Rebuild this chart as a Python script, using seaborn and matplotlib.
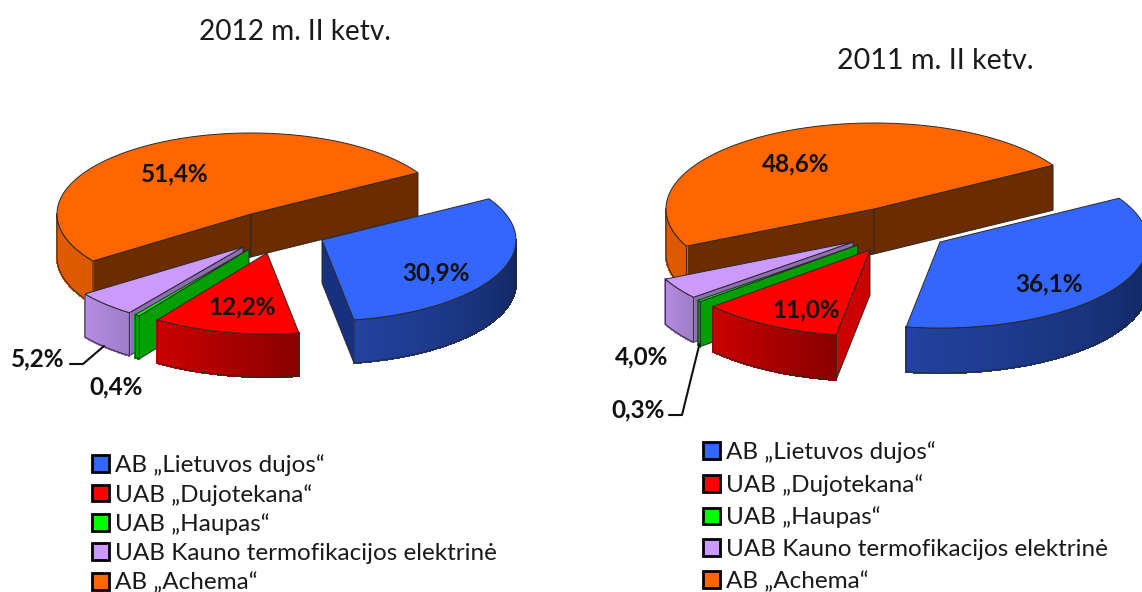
import numpy as np
import matplotlib.pyplot as plt
from matplotlib.patches import Patch
import seaborn as sns

# Duomenys
imones = ["AB „Lietuvos dujos“", "UAB „Dujotekana“", "UAB „Haupas“",
          "UAB Kauno termofikacijos elektrinė", "AB „Achema“"]
dalys_2012 = [30.9, 12.2, 0.4, 5.2, 51.4]
dalys_2011 = [36.1, 11.0, 0.3, 4.0, 48.6]
etiketes_2012 = ["30,9%", "12,2%", "0,4%", "5,2%", "51,4%"]
etiketes_2011 = ["36,1%", "11,0%", "0,3%", "4,0%", "48,6%"]
pavadinimas_2012 = "2012 m. II ketv."
pavadinimas_2011 = "2011 m. II ketv."

# Spalvos: virsus, pjuvis, sono gradientas
virsus = ["#3366FF", "#FF0000", "#00FF00", "#CC99FF", "#FF6600"]
pjuvis = ["#17307F", "#CC0000", "#00A000", "#8E6DB0", "#6B2C00"]
sonas = [("#22429F", "#11265F"), ("#CC0000", "#8C0000"), ("#00A000", "#008000"),
         ("#B78CE3", "#A07EC9"), ("#E05A00", "#DD5900")]
krastas = "#2A2A2A"

sns.set_theme(style="white")
plt.rcParams["font.family"] = ["Lato", "DejaVu Sans"]

fig = plt.figure(figsize=(11.42, 5.92), dpi=100)
ax = fig.add_axes([0, 0, 1, 1])
ax.set_xlim(0, 1142)
ax.set_ylim(592, 0)
ax.axis("off")


def taskai(cx, cy, a, b, t):
    t = np.radians(t)
    return cx + a * np.cos(t), cy - b * np.sin(t)


def pyragas(dalys, cx, cy, a, b, gylis, poslinkiai):
    dalys = np.array(dalys) / np.sum(dalys)
    pradzia = 30.6
    kampai = []
    for d in dalys:
        kampai.append((pradzia, pradzia - d * 360))
        pradzia -= d * 360
    # piesimo tvarka: nuo galo i prieki
    for i in [4, 0, 3, 2, 1]:
        t0, t1 = kampai[i]
        px = cx + poslinkiai[i][0]
        py = cy + poslinkiai[i][1]
        # pjuvio sienos
        for t, zenklas in [(t0, -1), (t1, 1)]:
            if np.cos(np.radians(t)) * zenklas > 0:
                x, y = taskai(px, py, a, b, t)
                ax.fill([px, x, x, px], [py, y, y + gylis, py + gylis],
                        facecolor=pjuvis[i], edgecolor=krastas, lw=0.7)
        # isorine siena: matoma tik priekine dalis
        for poslinkis in [0, -360]:
            nuo = min(t0, 0 + poslinkis)
            iki = max(t1, -180 + poslinkis)
            if nuo <= iki:
                continue
            n = max(int((nuo - iki) / 1.5), 1)
            ribos = np.linspace(iki, nuo, n + 1)
            palete = sns.blend_palette(sonas[i], n)
            for j in range(n):
                tt = np.linspace(ribos[j], ribos[j + 1], 3)
                x, y = taskai(px, py, a, b, tt)
                ax.fill(np.r_[x, x[::-1]], np.r_[y, y[::-1] + gylis],
                        facecolor=palete[j], edgecolor=palete[j], lw=1.0, antialiased=False)
            tt = np.linspace(iki, nuo, n + 1)
            x, y = taskai(px, py, a, b, tt)
            ax.fill(np.r_[x, x[::-1]], np.r_[y, y[::-1] + gylis],
                    facecolor="none", edgecolor=krastas, lw=0.7)
        # virsus
        tt = np.linspace(t0, t1, max(int(abs(t0 - t1)), 2) + 1)
        x, y = taskai(px, py, a, b, tt)
        ax.fill(np.r_[px, x], np.r_[py, y], facecolor=virsus[i],
                edgecolor=krastas, lw=0.7)


def legenda(y_virsus, x_kaire, tarpas):
    rankenos = [Patch(facecolor=c, edgecolor="black", lw=2) for c in virsus]
    leg = ax.legend(rankenos, imones, loc="upper left",
                    bbox_to_anchor=(x_kaire, y_virsus), bbox_transform=ax.transData,
                    frameon=False, fontsize=17.5, labelspacing=tarpas,
                    handlelength=0.68, handleheight=0.68, handletextpad=0.28,
                    borderpad=0, borderaxespad=0, labelcolor="#1A1A1A")
    return leg


# 2012
pyragas(dalys_2012, 251, 214, 194, 81, 43,
        [(71, 26), (16, 39), (-2, 35), (-8, 33), (0, 0)])
# 2011
pyragas(dalys_2011, 874, 209, 208, 86, 45,
        [(66, 33), (-4, 41), (-16.5, 36), (-21, 33), (0, 0)])

# Pavadinimai
ax.text(295, 32, pavadinimas_2012, ha="center", va="center", fontsize=20.2, color="#1A1A1A")
ax.text(935, 61, pavadinimas_2011, ha="center", va="center", fontsize=20.6, color="#1A1A1A")

# Procentai
vietos_2012 = [(436, 273), (242, 307), (116, 387), (38, 359), (175, 174)]
vietos_2011 = [(1049, 284), (806, 310), (638, 410), (642, 357), (796, 164)]
for etiketes, vietos in [(etiketes_2012, vietos_2012), (etiketes_2011, vietos_2011)]:
    for tekstas, (x, y) in zip(etiketes, vietos):
        ax.text(x, y, tekstas, ha="center", va="center", fontsize=17.5,
                fontweight="bold", color="#111111", zorder=5)

# Linijos iki etikečių
ax.plot([70, 83, 104], [364, 364, 346], color="#111111", lw=1.5, zorder=5)
ax.plot([669, 682, 699.5], [415, 415, 344], color="#111111", lw=1.5, zorder=5)

# Legendos
leg1 = legenda(454, 92, 0.325)
ax.add_artist(leg1)
legenda(441.5, 703, 0.44)

plt.savefig("out.png", dpi=100)
plt.close()
